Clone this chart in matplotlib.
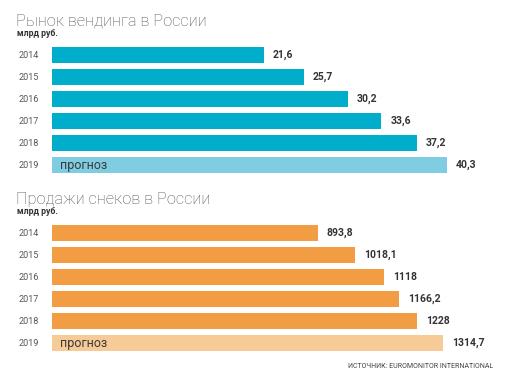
import matplotlib.pyplot as plt

years = ["2014", "2015", "2016", "2017", "2018", "2019"]
vending = [21.6, 25.7, 30.2, 33.6, 37.2, 40.3]
vending_labels = ["21,6", "25,7", "30,2", "33,6", "37,2", "40,3"]
snacks = [893.8, 1018.1, 1118, 1166.2, 1228, 1314.7]
snacks_labels = ["893,8", "1018,1", "1118", "1166,2", "1228", "1314,7"]

W, H = 509, 380
plt.rcParams['font.family'] = ['Roboto', 'DejaVu Sans']

fig = plt.figure(figsize=(W / 100, H / 100), dpi=100)


def box(left, top, right, bottom):
    return [left / W, 1 - bottom / H, (right - left) / W, (bottom - top) / H]


def panel(rect, values, labels, xmax, main, light):
    ax = fig.add_axes(rect)
    colors = [main] * (len(values) - 1) + [light]
    ax.barh(range(len(values)), values, height=0.73, color=colors)
    ax.set_xlim(0, xmax)
    ax.set_ylim(5.5, -0.5)
    ax.set_yticks(range(len(years)))
    ax.set_yticklabels(years, fontsize=6.5, color="#555555")
    ax.tick_params(axis="y", length=0, pad=9.5)
    ax.set_xticks([])
    for s in ax.spines.values():
        s.set_visible(False)
    for i, (v, t) in enumerate(zip(values, labels)):
        ax.annotate(t, (v, i), xytext=(6.5, 0), textcoords="offset points",
                    va="center", ha="left", fontsize=7.5, fontweight="bold",
                    color="#333333")
    ax.annotate("прогноз", (0, 5), xytext=(6, -0.5), textcoords="offset points",
                va="center", ha="left", fontsize=9, color="#3a3a3a")
    return ax


panel(box(52, 44, 500, 176), vending, vending_labels, 448 / 9.8, "#00ADCB", "#80CDE2")
panel(box(52, 222, 500, 354), snacks, snacks_labels, 448 / 0.2974, "#F29D43", "#F7CB97")

fig.text(16 / W, 1 - 26 / H, "Рынок вендинга в России", fontsize=11.8,
         fontweight="light", color="#555555", va="baseline")
fig.text(17 / W, 1 - 35.5 / H, "млрд руб.", fontsize=6.3, fontweight="bold",
         color="#333333", va="baseline")
fig.text(16 / W, 1 - 204 / H, "Продажи снеков в России", fontsize=11.8,
         fontweight="light", color="#555555", va="baseline")
fig.text(17 / W, 1 - 213.5 / H, "млрд руб.", fontsize=6.3, fontweight="bold",
         color="#333333", va="baseline")
fig.text(493 / W, 1 - 368 / H, "ИСТОЧНИК: EUROMONITOR INTERNATIONAL", fontsize=5,
         color="#444444", va="baseline", ha="right")

fig.savefig("out.png", dpi=100)
